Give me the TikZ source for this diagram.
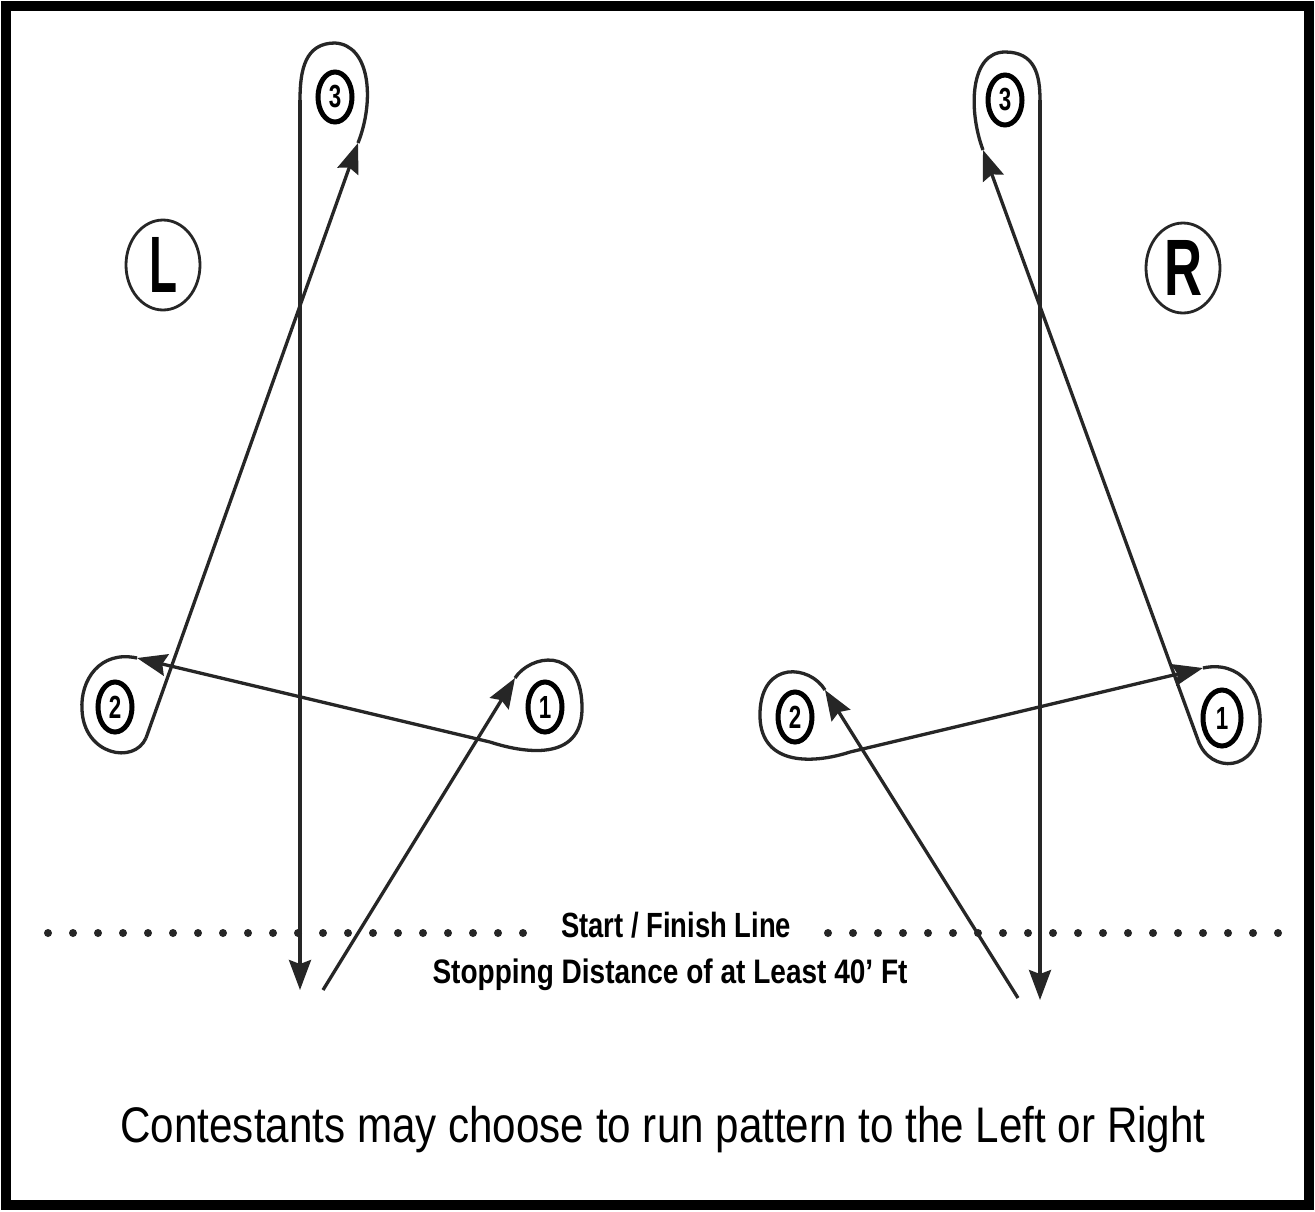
\documentclass[tikz,border=0pt]{standalone}
\usepackage{fontspec}
\setmainfont{Liberation Sans}
\usetikzlibrary{shapes.geometric,arrows.meta}
\begin{document}
\begin{tikzpicture}[x=1pt,y=-1pt,
  route/.style={line width=3.3pt, black!85},
  arr/.style={route, -{Stealth[length=30pt,width=22pt,inset=4pt]}},
  barrel/.style={ellipse, draw, line width=5pt, minimum width=34pt, minimum height=50pt, inner sep=0pt, font=\fontsize{32}{32}\selectfont\bfseries},
  side/.style={ellipse, draw, line width=2.8pt, black!85, minimum width=74pt, minimum height=90pt, inner sep=0pt},
  dots/.style={line width=8pt, dash pattern=on 0pt off 25pt, line cap=round, black!85}]
\useasboundingbox (0,0) rectangle (1315,1211);
\fill[white] (0,0) rectangle (1315,1211);
\draw[line width=10pt] (6,6) rectangle (1309,1205);

% barrels
\node[barrel] (L3) at (335,97) {\scalebox{0.7}[1]{3}};
\node[barrel] (L2) at (115,707) {\scalebox{0.7}[1]{2}};
\node[barrel] (L1) at (545,707) {\scalebox{0.7}[1]{1}};
\node[barrel] (R3) at (1005,100) {\scalebox{0.7}[1]{3}};
\node[barrel] (R2) at (795,717) {\scalebox{0.7}[1]{2}};
\node[barrel, minimum width=38pt, minimum height=56pt] (R1) at (1222,718) {\scalebox{0.7}[1]{1}};

% side signs
\node[side] (signL) at (163,265) {\resizebox{28pt}{\height}{\fontsize{80}{80}\selectfont\bfseries\color{black}L}};
\node[side] (signR) at (1183,268) {\resizebox{38pt}{\height}{\fontsize{80}{80}\selectfont\bfseries\color{black}R}};

% route points (left)
\coordinate (Ls) at (323,990);
\coordinate (L1in) at (515,678);
\coordinate (L1out) at (490,742);
\coordinate (L2in) at (137,658);
\coordinate (L2out) at (146,738);
\coordinate (L3in) at (358,143);
\coordinate (L3out) at (300,100);
\coordinate (Lend) at (300,990);
% route points (right)
\coordinate (Rs) at (1018,998);
\coordinate (R2in) at (825,690);
\coordinate (R2out) at (850,752);
\coordinate (R1in) at (1203,668);
\coordinate (R1out) at (1198,740);
\coordinate (R3in) at (983,150);
\coordinate (R3out) at (1040,100);
\coordinate (Rend) at (1040,1000);

% left pattern
\draw[arr] (Ls) -- (L1in);
\draw[route] (L1in) .. controls (530,655) and (580,645) .. (582,705) .. controls (584,760) and (530,755) .. (L1out);
\draw[arr] (L1out) -- (L2in);
\draw[route] (L2in) .. controls (100,650) and (80,680) .. (82,710) .. controls (84,755) and (134,765) .. (L2out);
\draw[arr] (L2out) -- (L3in);
\draw[route] (L3in) .. controls (375,100) and (370,45) .. (335,43) .. controls (305,43) and (300,70) .. (L3out);
\draw[arr] (L3out) -- (Lend);

% right pattern
\draw[arr] (Rs) -- (R2in);
\draw[route] (R2in) .. controls (810,665) and (762,660) .. (760,712) .. controls (758,765) and (810,765) .. (R2out);
\draw[arr] (R2out) -- (R1in);
\draw[route] (R1in) .. controls (1240,660) and (1262,690) .. (1260,725) .. controls (1258,772) and (1210,775) .. (R1out);
\draw[arr] (R1out) -- (R3in);
\draw[route] (R3in) .. controls (968,110) and (970,52) .. (1005,52) .. controls (1035,52) and (1040,75) .. (R3out);
\draw[arr] (R3out) -- (Rend);

% start / finish line
\coordinate (d1a) at (48,933);
\coordinate (d1b) at (528,933);
\coordinate (d2a) at (828,933);
\coordinate (d2b) at (1290,933);
\draw[dots] (d1a) -- (d1b);
\draw[dots] (d2a) -- (d2b);
\node (sf) at (676,925) {\resizebox{230pt}{\height}{\fontsize{35}{35}\selectfont\bfseries Start / Finish Line}};
\node (sd) at (670,975) {\resizebox{475pt}{\height}{\fontsize{34}{34}\selectfont\bfseries Stopping Distance of at Least 40' Ft}};
\node (cap) at (663,1130) {\resizebox{1085pt}{\height}{\fontsize{50}{50}\selectfont Contestants may choose to run pattern to the Left or Right}};
\end{tikzpicture}
\end{document}
